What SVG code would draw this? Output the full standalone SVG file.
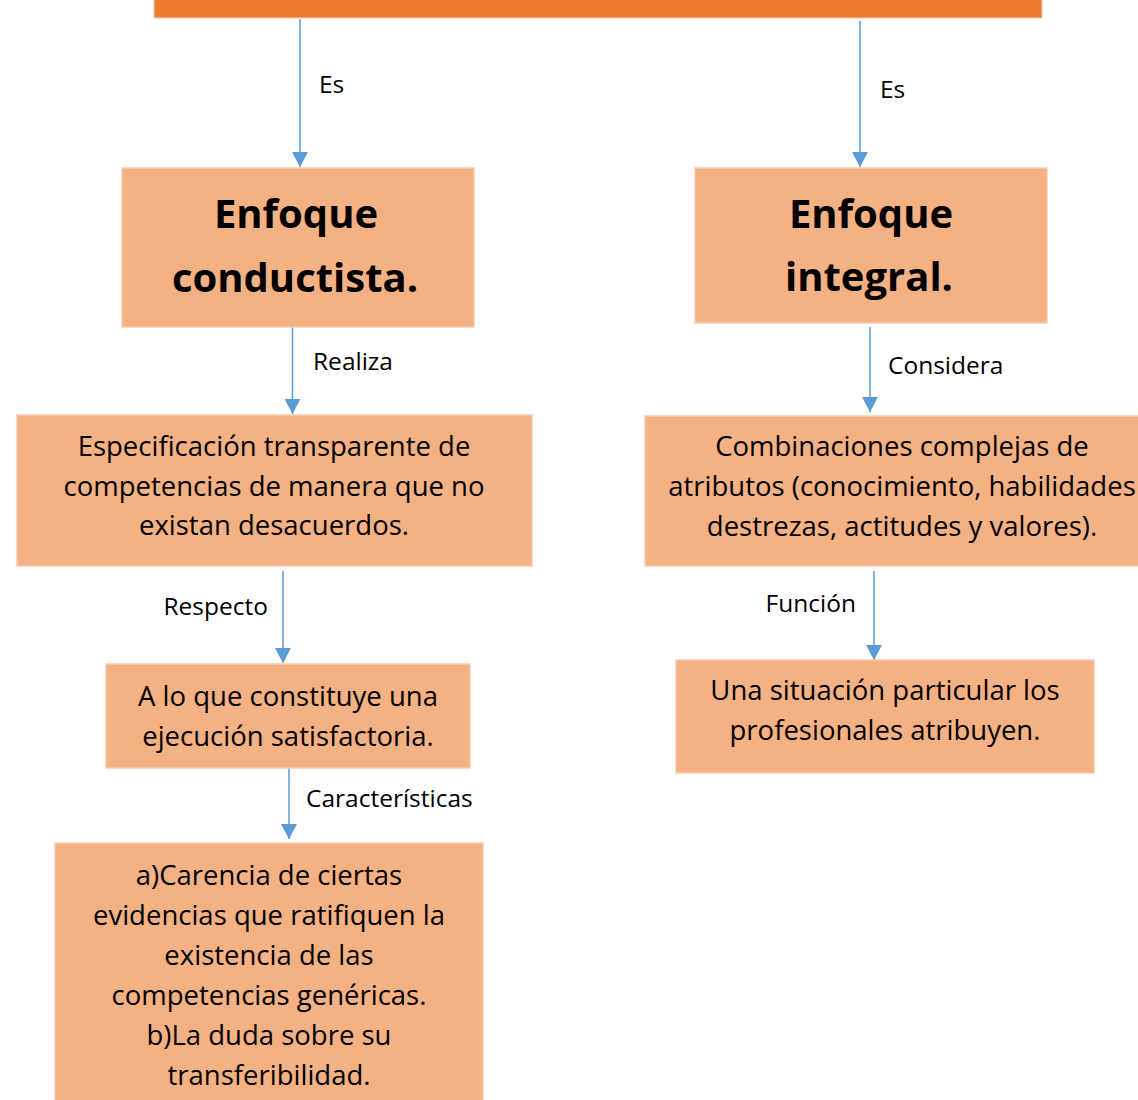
<svg xmlns="http://www.w3.org/2000/svg" width="1138" height="1100" viewBox="0 0 1138 1100">
<style>
.box{fill:#F4B183;stroke:#F8CBAD;stroke-width:1.5}
.head{font-family:"Open Sans","DejaVu Sans",sans-serif;font-weight:bold;font-size:40px;fill:#000;text-anchor:middle}
.txt{font-family:"Open Sans","Liberation Sans",sans-serif;font-size:27.5px;fill:#000;text-anchor:middle}
.lbl{font-family:"Open Sans","Liberation Sans",sans-serif;font-size:24.5px;fill:#000}
.con{stroke:#5B9BD5;stroke-width:1.5;fill:none;marker-end:url(#arr)}
</style>
<defs>
<marker id="arr" viewBox="0 0 15 16" markerWidth="15" markerHeight="16" refX="15" refY="8" orient="auto" markerUnits="userSpaceOnUse">
<path d="M0,0 L15,8 L0,16 z" fill="#5B9BD5"/>
</marker>
</defs>
<rect width="1138" height="1100" fill="#fff"/>
<g id="top"><rect x="154" y="-2" width="888" height="20" fill="#ED7D31" stroke="#F8CBAD" stroke-width="1"/></g>
<g id="connectors">
<line class="con" x1="300" y1="19" x2="300" y2="167"/>
<text class="lbl" x="319" y="93">Es</text>
<line class="con" x1="860" y1="21" x2="860" y2="167"/>
<text class="lbl" x="880" y="98">Es</text>
<line class="con" x1="292.5" y1="327" x2="292.5" y2="414"/>
<text class="lbl" x="313" y="370">Realiza</text>
<line class="con" x1="870" y1="327" x2="870" y2="412"/>
<text class="lbl" x="888" y="374">Considera</text>
<line class="con" x1="283" y1="571" x2="283" y2="663"/>
<text class="lbl" x="268" y="615" text-anchor="end">Respecto</text>
<line class="con" x1="874" y1="571" x2="874" y2="660"/>
<text class="lbl" x="856" y="612" text-anchor="end">Función</text>
<line class="con" x1="289" y1="768" x2="289" y2="839"/>
<text class="lbl" x="306" y="807">Características</text>
</g>
<g id="n1"><rect class="box" x="122" y="168" width="352" height="159"/>
<text class="head" x="296" y="228">Enfoque</text>
<text class="head" x="295" y="292">conductista.</text></g>
<g id="n2"><rect class="box" x="695" y="168" width="352" height="155"/>
<text class="head" x="871" y="228">Enfoque</text>
<text class="head" x="869" y="291">integral.</text></g>
<g id="n3"><rect class="box" x="17" y="415" width="515" height="151"/>
<text class="txt" x="274" y="456">Especificación transparente de</text>
<text class="txt" x="274" y="496">competencias de manera que no</text>
<text class="txt" x="274" y="535">existan desacuerdos.</text></g>
<g id="n4"><rect class="box" x="106" y="664" width="364" height="104"/>
<text class="txt" x="288" y="706">A lo que constituye una</text>
<text class="txt" x="288" y="746">ejecución satisfactoria.</text></g>
<g id="n5"><rect class="box" x="55" y="843" width="428" height="262"/>
<text class="txt" x="269" y="885">a)Carencia de ciertas</text>
<text class="txt" x="269" y="925">evidencias que ratifiquen la</text>
<text class="txt" x="269" y="965">existencia de las</text>
<text class="txt" x="269" y="1005">competencias genéricas.</text>
<text class="txt" x="269" y="1045">b)La duda sobre su</text>
<text class="txt" x="269" y="1085">transferibilidad.</text></g>
<g id="n6"><rect class="box" x="645" y="416" width="520" height="150"/>
<text class="txt" x="902" y="456">Combinaciones complejas de</text>
<text class="txt" x="902" y="496">atributos (conocimiento, habilidades</text>
<text class="txt" x="902" y="536">destrezas, actitudes y valores).</text></g>
<g id="n7"><rect class="box" x="676" y="660" width="418" height="113"/>
<text class="txt" x="885" y="700">Una situación particular los</text>
<text class="txt" x="885" y="740">profesionales atribuyen.</text></g>
</svg>
